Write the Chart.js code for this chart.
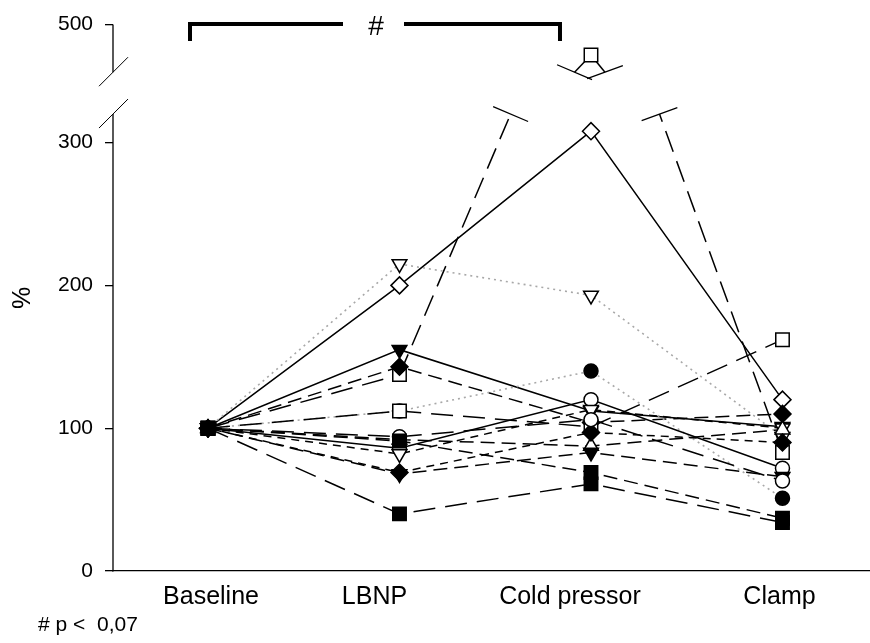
<!DOCTYPE html>
<html><head><meta charset="utf-8">
<script src="https://cdn.jsdelivr.net/npm/chart.js@4/dist/chart.umd.min.js"></script>
<style>html,body{margin:0;padding:0;background:#fff}#wrap{width:870px;height:643px}</style>
</head><body><div id="wrap"><canvas id="c" width="870" height="643"></canvas></div>
<script>
// ---------------- data ----------------
const categories = ['Baseline', 'LBNP', 'Cold pressor', 'Clamp'];
const yTickValues = [0, 100, 200, 300, 500];
const footnote = '# p <  0,07';
const bracketLabel = '#';

const subjDiamondOpen   = [100, 200, 308, 120];
const subjTriDownOpenA  = [100, 215, 193, 94];
const subjSquareOpenA   = [100, 137.5, 452, 83];
const subjTriDownFillA  = [100, 155, 112, 101];
const subjDiamondFillA  = [100, 143, 104, 110];
const subjSquareOpenB   = [100, 112, 101, 162];
const subjCircleFill    = [100, 112, 140, 51];
const subjCircleOpenA   = [100, 86, 120, 72];
const subjSquareFillA   = [100, 40, 61, 34];
const subjSquareFillB   = [100, 91, 69, 37];
const subjDiamondFillB  = [100, 69, 97, 90];
const subjTriDownFillB  = [100, 68, 83, 66];
const subjTriUpOpen     = [100, 92, 87.5, 99];
const subjTriDownOpenB  = [100, 82, 113, 100];
const subjCircleOpenB   = [100, 94, 106, 63];

// ---------------- styles ----------------
const FONT = '"Liberation Sans", Arial, Helvetica, sans-serif';
const LOWER_MAX = 320, UPPER_MIN = 425, UPPER_MAX = 500;
const LOWER_FRAC = 0.8363, UPPER_FRAC = 0.0871;
const LABEL_SHIFT = [3, -25, -21, -3];

const DASH = { solid: [], long: [22, 10], mid: [14, 7], short: [8, 6], dot: [2, 4] };
const MARK = {
  diamondOpen: { pointStyle: 'rectRot', fill: '#fff', r: 8.5, rot: 0 },
  diamondFill: { pointStyle: 'rectRot', fill: '#000', r: 8.5, rot: 0 },
  squareOpen:  { pointStyle: 'rect', fill: '#fff', r: 9.5, rot: 0 },
  squareFill:  { pointStyle: 'rect', fill: '#000', r: 9.5, rot: 0 },
  circleOpen:  { pointStyle: 'circle', fill: '#fff', r: 7, rot: 0 },
  circleFill:  { pointStyle: 'circle', fill: '#000', r: 7, rot: 0 },
  triDownOpen: { pointStyle: 'triangle', fill: '#fff', r: 8.5, rot: 180 },
  triDownFill: { pointStyle: 'triangle', fill: '#000', r: 8.5, rot: 180 },
  triUpOpen:   { pointStyle: 'triangle', fill: '#fff', r: 8.5, rot: 0 }
};

// first entry is drawn on top
const seriesList = [
  [subjSquareFillA, 'squareFill', 'long'],
  [subjSquareFillB, 'squareFill', 'mid'],
  [subjCircleOpenB, 'circleOpen', 'long'],
  [subjTriDownFillB, 'triDownFill', 'mid'],
  [subjDiamondFillB, 'diamondFill', 'short'],
  [subjTriUpOpen, 'triUpOpen', 'mid'],
  [subjTriDownOpenB, 'triDownOpen', 'short'],
  [subjCircleOpenA, 'circleOpen', 'solid'],
  [subjSquareOpenB, 'squareOpen', 'long'],
  [subjCircleFill, 'circleFill', 'dot'],
  [subjDiamondFillA, 'diamondFill', 'mid'],
  [subjTriDownFillA, 'triDownFill', 'solid'],
  [subjSquareOpenA, 'squareOpen', 'long'],
  [subjTriDownOpenA, 'triDownOpen', 'dot'],
  [subjDiamondOpen, 'diamondOpen', 'solid']
];

// ---------------- broken y scale ----------------
class BrokenLinearScale extends Chart.LinearScale {
  getPixelForValue(value) {
    const h = this.bottom - this.top;
    const yl = this.bottom - h * LOWER_FRAC, yu = this.top + h * UPPER_FRAC;
    if (value <= LOWER_MAX) return this.bottom - value / LOWER_MAX * h * LOWER_FRAC;
    if (value >= UPPER_MIN) return this.top + (UPPER_MAX - value) / (UPPER_MAX - UPPER_MIN) * h * UPPER_FRAC;
    return yl + (value - LOWER_MAX) / (UPPER_MIN - LOWER_MAX) * (yu - yl);
  }
  getValueForPixel(pixel) {
    const h = this.bottom - this.top;
    const yl = this.bottom - h * LOWER_FRAC, yu = this.top + h * UPPER_FRAC;
    if (pixel >= yl) return (this.bottom - pixel) / (h * LOWER_FRAC) * LOWER_MAX;
    if (pixel <= yu) return UPPER_MAX - (pixel - this.top) / (h * UPPER_FRAC) * (UPPER_MAX - UPPER_MIN);
    return LOWER_MAX + (yl - pixel) / (yl - yu) * (UPPER_MIN - LOWER_MAX);
  }
}
BrokenLinearScale.id = 'brokenLinear';
BrokenLinearScale.defaults = Chart.LinearScale.defaults;
Chart.register(BrokenLinearScale);

const crosses = (a, b) => (a <= LOWER_MAX) !== (b <= LOWER_MAX);

const datasets = seriesList.map(([vals, mk, dash]) => {
  const m = MARK[mk];
  const isDot = dash === 'dot';
  return {
    data: vals.map((v, i) => ({ x: i, y: v })),
    borderColor: isDot ? '#a8a8a8' : '#000',
    borderWidth: isDot ? 1.6 : 1.5,
    borderDash: DASH[dash],
    pointStyle: m.pointStyle,
    pointRotation: m.rot,
    pointRadius: m.r,
    pointBackgroundColor: m.fill,
    pointBorderColor: '#000',
    pointBorderWidth: 1.5,
    tension: 0,
    fill: false,
    segment: {
      borderColor: ctx => crosses(ctx.p0.parsed.y, ctx.p1.parsed.y) ? 'rgba(0,0,0,0)' : undefined
    }
  };
});

// ---------------- plugin: axis break, break segments, annotations ----------------
const breakPlugin = {
  id: 'breaks',
  beforeDatasetsDraw(chart) {
    const ctx = chart.ctx, xs = chart.scales.x, ys = chart.scales.y;
    const h = ys.bottom - ys.top;
    const kLow = h * LOWER_FRAC / LOWER_MAX;
    const yc = v => ys.bottom - v * kLow;
    chart.data.datasets.forEach(ds => {
      const d = ds.data;
      for (let i = 0; i < d.length - 1; i++) {
        if (!crosses(d[i].y, d[i + 1].y)) continue;
        let lo = d[i], hi = d[i + 1];
        if (lo.y > hi.y) { const t = lo; lo = hi; hi = t; }
        const xL = xs.getPixelForValue(lo.x), xH = xs.getPixelForValue(hi.x);
        const xAt = v => xL + (v - lo.y) / (hi.y - lo.y) * (xH - xL);
        const dx = xH - xL, dy = yc(hi.y) - yc(lo.y);
        const len = Math.hypot(dx, dy);
        const px = -dy / len, py = dx / len;
        const c1x = xAt(LOWER_MAX), c1y = yc(LOWER_MAX);
        const c2x = xAt(UPPER_MIN), c2y = ys.getPixelForValue(UPPER_MIN);
        ctx.save();
        ctx.strokeStyle = ds.borderColor;
        ctx.lineWidth = ds.borderWidth;
        ctx.setLineDash(ds.borderDash || []);
        ctx.beginPath();
        ctx.moveTo(xL, yc(lo.y)); ctx.lineTo(c1x, c1y);
        ctx.stroke();
        ctx.beginPath();
        ctx.moveTo(c2x, c2y); ctx.lineTo(xH, ys.getPixelForValue(hi.y));
        ctx.stroke();
        ctx.setLineDash([]);
        ctx.strokeStyle = '#000';
        ctx.lineWidth = 1.3;
        ctx.beginPath();
        ctx.moveTo(c1x - px * 19, c1y - py * 19); ctx.lineTo(c1x + px * 19, c1y + py * 19);
        ctx.moveTo(c2x - px * 19, c2y - py * 19); ctx.lineTo(c2x + px * 19, c2y + py * 19);
        ctx.stroke();
        ctx.restore();
      }
    });
  },
  afterDraw(chart) {
    const ctx = chart.ctx, xs = chart.scales.x, ys = chart.scales.y;
    const ax = ys.right;
    const yLow = ys.getPixelForValue(LOWER_MAX), yUp = ys.getPixelForValue(UPPER_MIN);
    ctx.save();
    ctx.strokeStyle = '#000';
    ctx.lineWidth = 1.3;
    ctx.beginPath();
    ctx.moveTo(ax, ys.bottom + 0.6); ctx.lineTo(ax, yLow);
    ctx.moveTo(ax, yUp); ctx.lineTo(ax, ys.top);
    ctx.stroke();
    ctx.lineWidth = 1;
    ctx.beginPath();
    ctx.moveTo(ax - 14, yLow + 14); ctx.lineTo(ax + 15, yLow - 15);
    ctx.moveTo(ax - 14, yUp + 14); ctx.lineTo(ax + 15, yUp - 15);
    ctx.stroke();

    // significance bracket
    const bl = xs.getPixelForValue(0) - 18, br = xs.getPixelForValue(2) - 31;
    ctx.lineWidth = 4;
    ctx.lineJoin = 'miter';
    ctx.beginPath();
    ctx.moveTo(bl, 41); ctx.lineTo(bl, 24); ctx.lineTo(343, 24);
    ctx.moveTo(404, 24); ctx.lineTo(br, 24); ctx.lineTo(br, 41);
    ctx.stroke();
    ctx.fillStyle = '#000';
    ctx.font = '28px ' + FONT;
    ctx.textAlign = 'center';
    ctx.textBaseline = 'alphabetic';
    ctx.fillText(bracketLabel, 376, 35);

    // category labels
    ctx.font = '25px ' + FONT;
    categories.forEach((c, i) => {
      ctx.fillText(c, xs.getPixelForValue(i) + LABEL_SHIFT[i], 604);
    });

    // footnote
    ctx.font = '21px ' + FONT;
    ctx.textAlign = 'left';
    ctx.fillText(footnote, 38, 631);
    ctx.restore();
  }
};

new Chart(document.getElementById('c'), {
  type: 'line',
  data: { datasets },
  plugins: [breakPlugin],
  options: {
    responsive: false,
    animation: false,
    devicePixelRatio: 1,
    layout: { autoPadding: false, padding: { top: 20, right: 0, left: 0, bottom: 0 } },
    plugins: { legend: { display: false }, tooltip: { enabled: false } },
    scales: {
      x: {
        type: 'linear', min: -0.4961, max: 3.457,
        afterFit: s => { s.height = 72; },
        ticks: { display: false },
        grid: { display: false, drawTicks: false },
        border: { display: true, color: '#000', width: 1.3 }
      },
      y: {
        type: 'brokenLinear', min: 0, max: 500, position: 'left',
        afterBuildTicks: s => { s.ticks = yTickValues.map(v => ({ value: v })); },
        afterFit: s => { s.width = 113; },
        border: { display: false },
        grid: { display: true, drawOnChartArea: false, drawTicks: true, tickLength: 8, color: '#000', lineWidth: 1.3 },
        ticks: { color: '#000', padding: 12, font: { family: FONT, size: 21 }, callback: v => String(v) },
        title: { display: true, text: '%', color: '#000', font: { family: FONT, size: 25 }, padding: { top: 8, bottom: 0 } }
      }
    }
  }
});
</script></body></html>
